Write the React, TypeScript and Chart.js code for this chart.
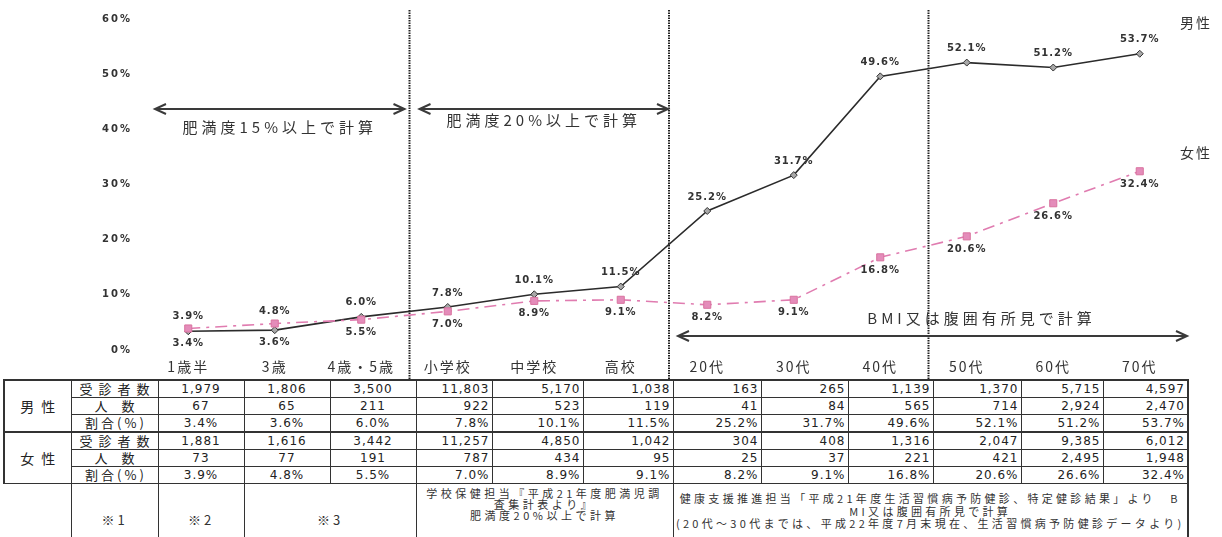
import React, { useEffect, useRef } from "react";
import { Chart, registerables } from "chart.js";

Chart.register(...registerables);

const categories = ["1歳半", "3歳", "4歳・5歳", "小学校", "中学校", "高校", "20代", "30代", "40代", "50代", "60代", "70代"];
const maleRates = [3.4, 3.6, 6.0, 7.8, 10.1, 11.5, 25.2, 31.7, 49.6, 52.1, 51.2, 53.7];
const femaleRates = [3.9, 4.8, 5.5, 7.0, 8.9, 9.1, 8.2, 9.1, 16.8, 20.6, 26.6, 32.4];
const maleLabelBelow = [true, true, false, false, false, false, false, false, false, false, false, false];
const femaleLabelBelow = [false, false, true, true, true, true, true, true, true, true, true, true];
const yMax = 60;
const yStep = 10;

const maleExaminees = ["1,979", "1,806", "3,500", "11,803", "5,170", "1,038", "163", "265", "1,139", "1,370", "5,715", "4,597"];
const maleCounts = ["67", "65", "211", "922", "523", "119", "41", "84", "565", "714", "2,924", "2,470"];
const femaleExaminees = ["1,881", "1,616", "3,442", "11,257", "4,850", "1,042", "304", "408", "1,316", "2,047", "9,385", "6,012"];
const femaleCounts = ["73", "77", "191", "787", "434", "95", "25", "37", "221", "421", "2,495", "1,948"];

const sectionLabels = ["肥満度15%以上で計算", "肥満度20%以上で計算", "BMI又は腹囲有所見で計算"];
const seriesNames = ["男性", "女性"];
const rowLabels = ["受診者数", "人数", "割合(%)"];
const noteMarks = ["※1", "※2", "※3"];
const schoolNote = ["学校保健担当『平成21年度肥満児調", "査集計表より』", "肥満度20%以上で計算"];
const healthNote = [
  "健康支援推進担当「平成21年度生活習慣病予防健診、特定健診結果」より　B",
  "MI又は腹囲有所見で計算",
  "(20代～30代までは、平成22年度7月末現在、生活習慣病予防健診データより)",
];

const CJK = "'Noto Sans CJK JP', 'DejaVu Sans', sans-serif";
const NUM = "'DejaVu Sans', sans-serif";
const PINK_LINE = "#e07cb0";
const PINK_FILL = "#e48cba";

function drawArrow(ctx: CanvasRenderingContext2D, x1: number, x2: number, y: number) {
  ctx.beginPath();
  ctx.moveTo(x1, y);
  ctx.lineTo(x2, y);
  ctx.moveTo(x1 + 11, y - 5);
  ctx.lineTo(x1, y);
  ctx.lineTo(x1 + 11, y + 5);
  ctx.moveTo(x2 - 11, y - 5);
  ctx.lineTo(x2, y);
  ctx.lineTo(x2 - 11, y + 5);
  ctx.stroke();
}

const overlayPlugin = {
  id: "overlay",
  beforeDraw(chart: any) {
    chart.ctx.letterSpacing = "2px";
  },
  beforeDatasetsDraw(chart: any) {
    const ctx: CanvasRenderingContext2D = chart.ctx;
    const x = chart.scales.x;
    const area = chart.chartArea;
    const dividers = [2, 5, 8].map((i) => (x.getPixelForValue(i) + x.getPixelForValue(i + 1)) / 2 + 5);
    ctx.save();
    ctx.strokeStyle = "#222";
    ctx.lineWidth = 2;
    ctx.setLineDash([1.5, 1]);
    dividers.forEach((d) => {
      ctx.beginPath();
      ctx.moveTo(d, 10);
      ctx.lineTo(d, chart.height);
      ctx.stroke();
    });
    ctx.setLineDash([]);
    ctx.strokeStyle = "#3a3a3a";
    ctx.lineWidth = 2;
    const yTop = area.top + 90;
    const yBot = area.bottom - 14;
    drawArrow(ctx, area.left + 10, dividers[0] - 5, yTop);
    drawArrow(ctx, dividers[0] + 10, dividers[1] - 1, yTop);
    drawArrow(ctx, dividers[1] + 9, area.right + 4, yBot);

    ctx.fillStyle = "#333";
    ctx.font = `15px ${CJK}`;
    (ctx as any).letterSpacing = "4px";
    ctx.textAlign = "center";
    ctx.textBaseline = "middle";
    ctx.fillText(sectionLabels[0], (area.left + 10 + dividers[0] - 5) / 2, yTop + 18);
    ctx.fillText(sectionLabels[1], (dividers[0] + 10 + dividers[1] - 1) / 2, yTop + 11);
    ctx.fillText(sectionLabels[2], (dividers[1] + 9 + area.right + 4) / 2 + 49, yBot - 18);

    ctx.font = `14px ${CJK}`;
    (ctx as any).letterSpacing = "2px";
    ctx.fillText(seriesNames[0], area.right + 13, 23);
    ctx.fillText(seriesNames[1], area.right + 13, 153);
    ctx.restore();
  },
  afterDatasetsDraw(chart: any) {
    const ctx: CanvasRenderingContext2D = chart.ctx;
    const x = chart.scales.x;
    const y = chart.scales.y;
    ctx.save();
    ctx.fillStyle = "#333";
    ctx.font = `bold 10px ${NUM}`;
    (ctx as any).letterSpacing = "1px";
    ctx.textAlign = "center";
    ctx.textBaseline = "middle";
    maleRates.forEach((v, i) => {
      const px = x.getPixelForValue(i);
      const py = y.getPixelForValue(v);
      ctx.fillText(v.toFixed(1) + "%", px, maleLabelBelow[i] ? py + 12 : py - 14);
    });
    femaleRates.forEach((v, i) => {
      const px = x.getPixelForValue(i);
      const py = y.getPixelForValue(v);
      ctx.fillText(v.toFixed(1) + "%", px, femaleLabelBelow[i] ? py + 13 : py - 12);
    });
    ctx.restore();
  },
};

const colW = [67, 87, 86, 86, 86, 76, 91, 90, 88, 87, 85, 88, 82, 85];

const cellBase: React.CSSProperties = {
  border: "1px solid #333",
  padding: 0,
  overflow: "visible",
  whiteSpace: "nowrap",
  lineHeight: "14px",
  height: 17.3,
  boxSizing: "border-box",
};

function numStyle(i: number): React.CSSProperties {
  return {
    ...cellBase,
    fontFamily: NUM,
    fontSize: 12,
    letterSpacing: "1px",
    color: "#222",
    textAlign: i < 3 ? "center" : "right",
    paddingRight: i < 3 ? 0 : 2,
  };
}

const labelSpacing = ["6px", "14px", "3px"];

function labelStyle(idx: number): React.CSSProperties {
  return {
    ...cellBase,
    fontFamily: CJK,
    fontSize: 13,
    letterSpacing: labelSpacing[idx],
    paddingLeft: labelSpacing[idx],
    textAlign: "center",
    color: "#222",
  };
}

function groupRows(name: string, examinees: string[], counts: string[], rates: number[], first: boolean) {
  const topStyle: React.CSSProperties = first ? {} : { borderTop: "2px solid #333" };
  return [
    <tr key={name + "a"}>
      <td
        rowSpan={3}
        style={{
          ...cellBase,
          height: "auto",
          ...topStyle,
          fontFamily: CJK,
          fontSize: 14,
          letterSpacing: "7px",
          paddingLeft: 7,
          textAlign: "center",
          color: "#222",
        }}
      >
        {name}
      </td>
      <td style={{ ...labelStyle(0), ...topStyle }}>{rowLabels[0]}</td>
      {examinees.map((t, i) => (
        <td key={"e" + i} style={{ ...numStyle(i), ...topStyle }}>
          {t}
        </td>
      ))}
    </tr>,
    <tr key={name + "b"}>
      <td style={labelStyle(1)}>{rowLabels[1]}</td>
      {counts.map((t, i) => (
        <td key={"c" + i} style={numStyle(i)}>
          {t}
        </td>
      ))}
    </tr>,
    <tr key={name + "c"}>
      <td style={labelStyle(2)}>{rowLabels[2]}</td>
      {rates.map((v, i) => (
        <td key={"r" + i} style={numStyle(i)}>
          {v.toFixed(1) + "%"}
        </td>
      ))}
    </tr>,
  ];
}

export default function App() {
  const ref = useRef<HTMLCanvasElement>(null);

  useEffect(() => {
    document.body.style.margin = "0";
    const chart = new Chart(ref.current as HTMLCanvasElement, {
      type: "line",
      data: {
        labels: categories,
        datasets: [
          {
            label: seriesNames[0],
            data: maleRates,
            borderColor: "#2b2b2b",
            borderWidth: 1.6,
            pointStyle: "rectRot",
            pointRadius: 3.5,
            pointBackgroundColor: "#a8a8a8",
            pointBorderColor: "#333",
            pointBorderWidth: 1,
            tension: 0,
            order: 2,
          },
          {
            label: seriesNames[1],
            data: femaleRates,
            borderColor: PINK_LINE,
            borderWidth: 1.6,
            borderDash: [12, 6, 3, 6],
            pointStyle: "rect",
            pointRadius: 5,
            pointBackgroundColor: PINK_FILL,
            pointBorderColor: "#d9739f",
            pointBorderWidth: 1,
            tension: 0,
            order: 1,
          },
        ],
      },
      options: {
        animation: false,
        responsive: true,
        maintainAspectRatio: false,
        layout: { padding: { top: 17, right: 39, left: 0, bottom: 0 } },
        plugins: { legend: { display: false }, tooltip: { enabled: false } },
        scales: {
          x: {
            offset: true,
            grid: { display: false, drawTicks: false },
            border: { display: false },
            ticks: {
              padding: 8,
              autoSkip: false,
              maxRotation: 0,
              color: "#333",
              font: { family: CJK, size: 14 },
            },
            afterFit: (s: any) => {
              s.height = 29;
            },
          },
          y: {
            min: 0,
            max: yMax,
            grid: { display: false, drawTicks: false },
            border: { display: false },
            ticks: {
              stepSize: yStep,
              padding: 13,
              color: "#333",
              font: { family: NUM, size: 10, weight: "bold" },
              callback: (v: any) => v + "%",
            },
            afterFit: (s: any) => {
              s.width = 145;
            },
          },
        },
      },
      plugins: [overlayPlugin],
    } as any);
    return () => chart.destroy();
  }, []);

  return (
    <div style={{ position: "relative", width: 1222, height: 537, overflow: "hidden", background: "#fff" }}>
      <div style={{ position: "absolute", left: 0, top: 0, width: 1222, height: 379 }}>
        <canvas ref={ref} />
      </div>
      <table
        style={{
          position: "absolute",
          left: 3,
          top: 379,
          borderCollapse: "collapse",
          borderSpacing: 0,
          tableLayout: "fixed",
          width: colW.reduce((a, b) => a + b, 0),
          border: "2px solid #333",
          background: "transparent",
          lineHeight: "14px",
        }}
      >
        <colgroup>
          {colW.map((w, i) => (
            <col key={i} style={{ width: w }} />
          ))}
        </colgroup>
        <tbody>
          {groupRows(seriesNames[0], maleExaminees, maleCounts, maleRates, true)}
          {groupRows(seriesNames[1], femaleExaminees, femaleCounts, femaleRates, false)}
          <tr>
            <td style={{ ...cellBase, height: 60, borderLeftStyle: "hidden", borderBottomStyle: "hidden" }} />
            {noteMarks.map((m, i) => (
              <td
                key={m}
                colSpan={i === 2 ? 2 : 1}
                style={{
                  ...cellBase,
                  height: 60,
                  verticalAlign: "top",
                  paddingTop: 28,
                  textAlign: "center",
                  fontFamily: CJK,
                  fontSize: 13,
                  letterSpacing: "3px",
                  lineHeight: "16px",
                  color: "#333",
                }}
              >
                {m}
              </td>
            ))}
            <td
              colSpan={3}
              style={{
                ...cellBase,
                height: 60,
                verticalAlign: "top",
                paddingTop: 4,
                textAlign: "center",
                fontFamily: CJK,
                fontSize: 11,
                letterSpacing: "3.5px",
                lineHeight: "11px",
                color: "#333",
              }}
            >
              {schoolNote.map((l, i) => (
                <div key={i}>{l}</div>
              ))}
            </td>
            <td
              colSpan={6}
              style={{
                ...cellBase,
                height: 60,
                verticalAlign: "top",
                paddingTop: 8,
                textAlign: "center",
                fontFamily: CJK,
                fontSize: 11,
                letterSpacing: "3.3px",
                lineHeight: "12.5px",
                color: "#333",
              }}
            >
              {healthNote.map((l, i) => (
                <div key={i}>{l}</div>
              ))}
            </td>
          </tr>
        </tbody>
      </table>
    </div>
  );
}
